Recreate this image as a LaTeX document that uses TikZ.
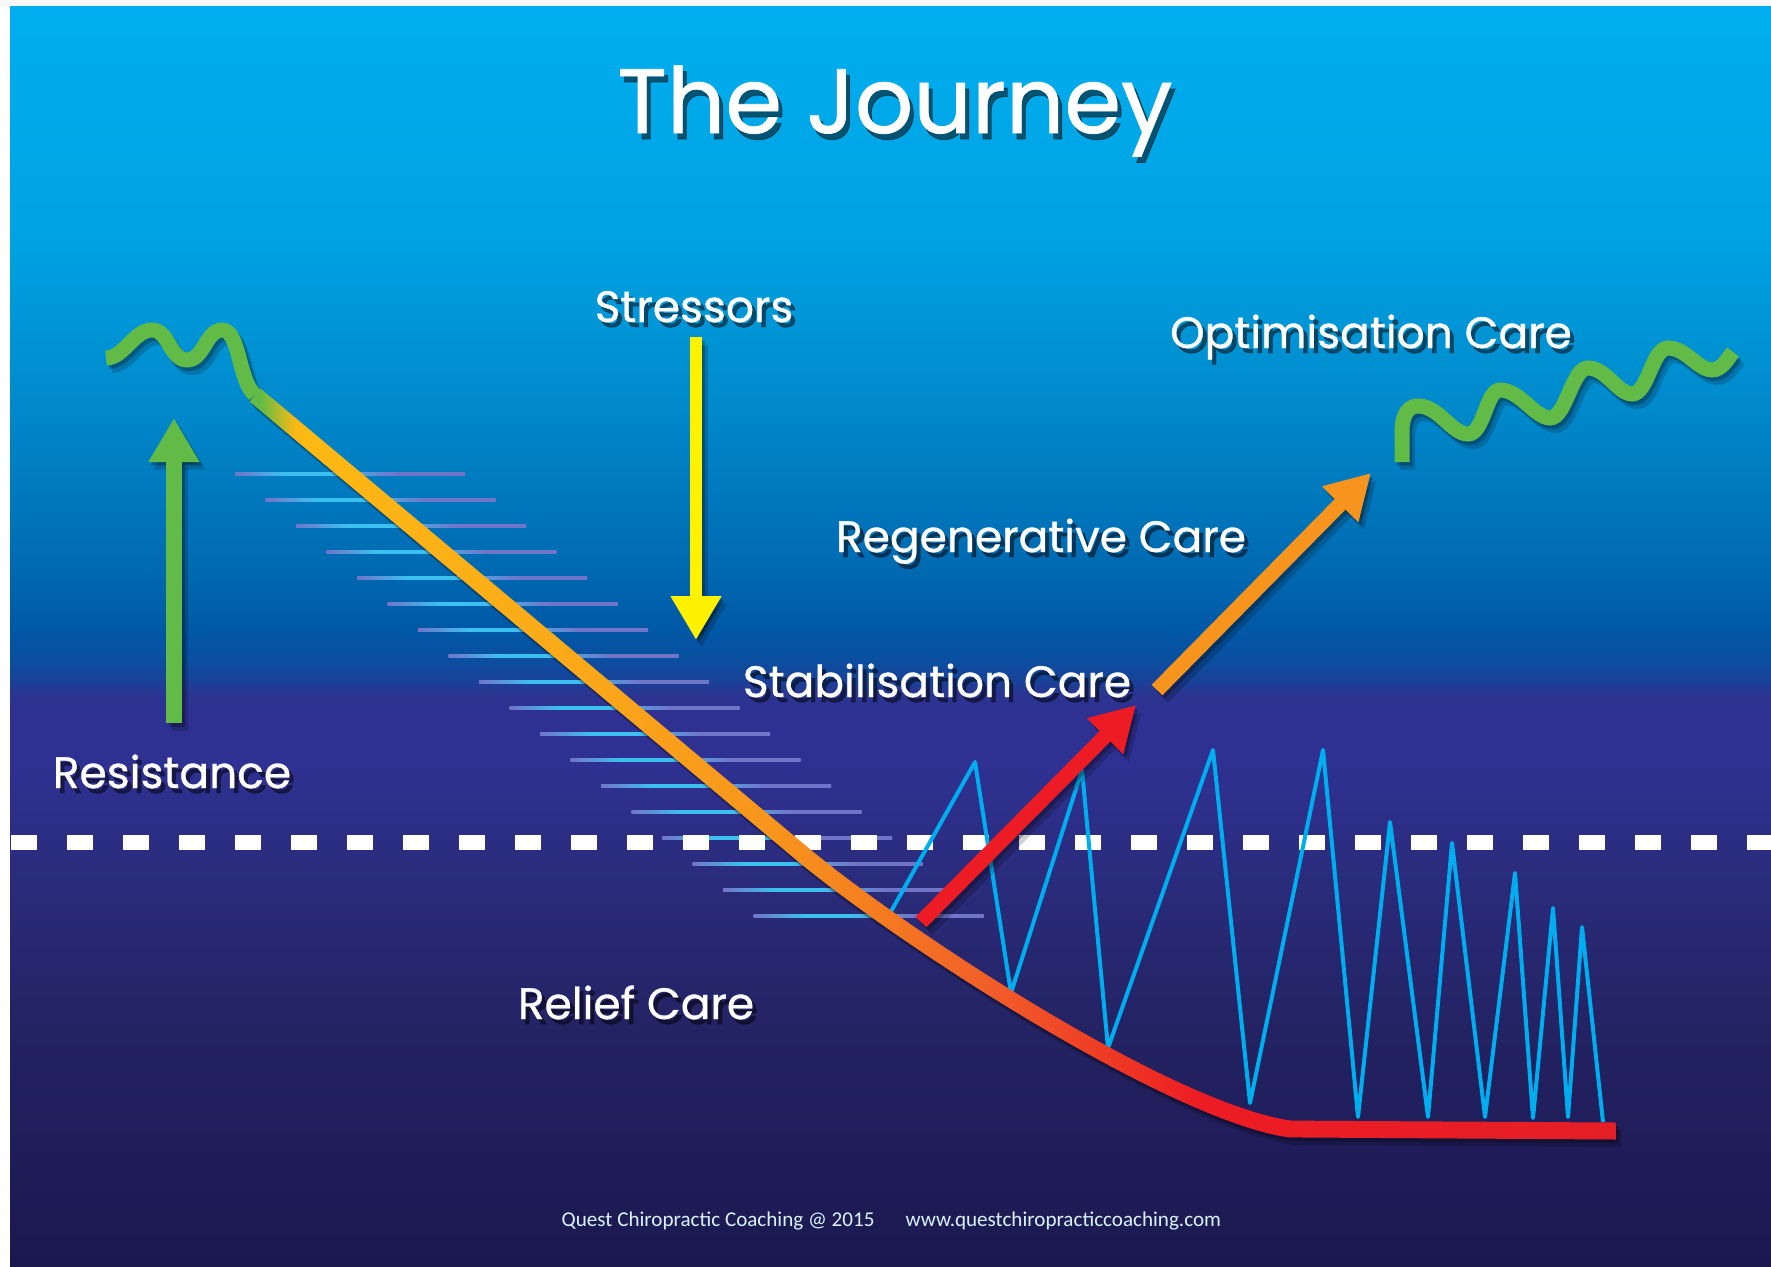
\documentclass[tikz,border=0pt]{standalone}
\usepackage{fontspec}
\usepackage{tikz}
\usetikzlibrary{positioning,arrows.meta,calc}
\setmainfont{Poppins}[FakeBold=0.8]
\newfontfamily\footfont{Carlito}

% sky: bright cyan at the top, night blue at the bottom
\definecolor{skyx}{HTML}{00AEEF}
\definecolor{skyb}{HTML}{00A3E3}
\definecolor{skyc}{HTML}{0089CB}
\definecolor{skyd}{HTML}{006AB2}
\definecolor{skye}{HTML}{0058A6}
\definecolor{deepa}{HTML}{0A4FA0}
\definecolor{deepb}{HTML}{174399}
\definecolor{duska}{HTML}{2A3591}
\definecolor{duskb}{HTML}{2E3192}
\definecolor{duskc}{HTML}{2A2B7A}
\definecolor{nighta}{HTML}{232262}
\definecolor{nightb}{HTML}{1B1850}
% strokes
\definecolor{leafx}{HTML}{62BB46}
\definecolor{sunx}{HTML}{FFF200}
\definecolor{goldx}{HTML}{FDB913}
\definecolor{amberx}{HTML}{FBAA19}
\definecolor{tangx}{HTML}{F7941D}
\definecolor{tangr}{HTML}{F47B20}
\definecolor{emberx}{HTML}{F15A29}
\definecolor{emberr}{HTML}{EE3B24}
\definecolor{flamex}{HTML}{ED1C24}
\definecolor{flamed}{HTML}{E41E26}
\definecolor{zigx}{HTML}{00AEEF}
\definecolor{stairlav}{HTML}{7175C8}
\definecolor{stairblue}{HTML}{3CC0F0}

\pgfdeclareverticalshading{journeysky}{100bp}{color(0bp)=(nightb); color(25bp)=(nightb);
  color(34bp)=(nighta); color(40bp)=(duskc); color(45bp)=(duskb); color(47bp)=(duskb);
  color(47.7bp)=(duska); color(48.3bp)=(deepb); color(49.1bp)=(deepa); color(50.2bp)=(skye);
  color(52.8bp)=(skyd); color(59bp)=(skyc); color(66bp)=(skyb); color(75bp)=(skyx); color(100bp)=(skyx)}
\pgfdeclarehorizontalshading{descent}{100bp}{color(0bp)=(leafx); color(25.4bp)=(leafx);
  color(26.7bp)=(goldx); color(36.4bp)=(amberx); color(44.4bp)=(tangx); color(48.1bp)=(tangr);
  color(52.5bp)=(emberx); color(56.3bp)=(emberr); color(59.8bp)=(flamex); color(75bp)=(flamed);
  color(100bp)=(flamed)}
\pgfdeclarehorizontalshading{stairglow}{100bp}{color(0bp)=(stairlav); color(25bp)=(stairlav);
  color(36bp)=(stairblue); color(46bp)=(stairblue); color(60bp)=(stairlav); color(100bp)=(stairlav)}

% outline of the thick descent (straight run, bend, flat floor)
\def\descentband{(260.5,388.5) -- (805.5,845.5) .. controls (905.5,929.5) and (1171.2,1103.6) .. (1291.2,1120.6)
  -- (1616,1122.5) -- (1616,1139.5) -- (1288.8,1137.4) .. controls (1168.8,1120.4) and (894.5,942.5) .. (794.5,858.5)
  -- (249.5,401.5) -- cycle}
\def\leftwiggle{(106,358) .. controls (124,358) and (134,330) .. (152,330) .. controls (169,330) and (170,360) .. (187,360)
  .. controls (204,360) and (206,330) .. (222,330) .. controls (240,330) and (238,380) .. (255,395)}
\def\rightwiggle{(1402,462) -- (1402,432) .. controls (1402,412) and (1410,405) .. (1420,406)
  .. controls (1440,408) and (1452,434) .. (1468,434) .. controls (1484,434) and (1486,390) .. (1500,390)
  .. controls (1520,390) and (1535,418) .. (1550,418) .. controls (1566,418) and (1572,368) .. (1588,368)
  .. controls (1606,368) and (1618,394) .. (1632,394) .. controls (1648,394) and (1652,348) .. (1668,348)
  .. controls (1686,348) and (1698,370) .. (1712,370) .. controls (1722,370) and (1728,358) .. (1733,352)}

\begin{document}
\begin{tikzpicture}[x=0.1mm, y=-0.1mm,
  lbl/.style={font=\fontsize{12.5}{14}\selectfont, text=white, anchor=base, inner sep=0pt},
  lblshade/.style={lbl, text=black},
  foot/.style={font=\footfont\fontsize{6}{7}\selectfont, text=white!85!skyx, anchor=base west, inner sep=0pt},
  wiggle/.style={draw=leafx, line width=1.5mm, line cap=butt},
  bigarrow/.style={line width=1.5mm, -{Triangle[length=4.4mm, width=4.8mm]}},
  zigzag/.style={draw=zigx, line width=0.4mm, line join=round},
  breakline/.style={draw=white, line width=1.5mm, dash pattern=on 2.6mm off 3mm}]

  \useasboundingbox (0,0) rectangle (1771,1266);
  \fill[white] (0,0) rectangle (1771,1266);
  \fill[gray!6] (0,0) rectangle (1771,6);
  \shade[shading=journeysky] (10,6) rectangle (1771,1266);

  % arrow ends
  \coordinate (resist tail) at (174,723);
  \coordinate (resist tip) at (174,418);
  \coordinate (stress tail) at (696,337);
  \coordinate (stress tip) at (696,640);
  \coordinate (stab tail) at (921,922);
  \coordinate (stab tip) at (1136,705);
  \coordinate (regen tail) at (1157,690);
  \coordinate (regen tip) at (1371,473);

  % stepped stress lines
  \foreach \i in {0,...,17}
    \shade[shading=stairglow] ({235+30.5*\i},{472.3+26*\i}) rectangle ++(230,3.5);

  % threshold
  \draw[breakline] (11,842) -- (1771,842);

  % care visits
  \draw[zigzag] (889,915) -- (975,762) -- (1011,993) -- (1082,770) -- (1108,1048) -- (1213,750)
    -- (1250,1103) -- (1323,750) -- (1358,1117) -- (1390,822) -- (1428,1117) -- (1452,843)
    -- (1485,1117) -- (1515,873) -- (1533,1118) -- (1553,908) -- (1568,1117) -- (1582,927) -- (1603,1122);

  % soft drop shadow under the strokes
  \foreach \dx/\dy/\op in {0.25/0.35/0.25, 0.55/0.75/0.18} {
    \begin{scope}[transform canvas={shift={(\dx mm,-\dy mm)}}, opacity=\op]
      \fill[black] \descentband;
      \draw[wiggle, draw=black] \leftwiggle;
      \draw[wiggle, draw=black] \rightwiggle;
      \draw[bigarrow, black, line width=1.6mm] (resist tail) -- (resist tip);
      \draw[bigarrow, black, line width=1.2mm] (stress tail) -- (stress tip);
      \draw[bigarrow, black] (stab tail) -- (stab tip);
      \draw[bigarrow, black] (regen tail) -- (regen tip);
    \end{scope}
  }

  \shade[shading=descent] \descentband;
  \draw[wiggle] \leftwiggle;
  \draw[wiggle] \rightwiggle;

  \draw[bigarrow, leafx, line width=1.6mm] (resist tail) -- (resist tip);
  \draw[bigarrow, sunx, line width=1.2mm] (stress tail) -- (stress tip);
  \draw[bigarrow, flamex] (stab tail) -- (stab tip);
  \draw[bigarrow, tangx] (regen tail) -- (regen tip);

  % labels with their shadows
  \node[lblshade, font=\fontsize{26}{30}\selectfont, opacity=0.5] (title-sh) at (899,139) {The Journey};
  \node[lbl, font=\fontsize{26}{30}\selectfont] (title) at (895,133) {The Journey};
  \foreach \nm/\lx/\ly/\txt in {stressors/694/322/Stressors, optcare/1371/348/Optimisation Care,
      regencare/1041/552/Regenerative Care, stabcare/937/697/Stabilisation Care,
      resistance/172/788/Resistance, reliefcare/636/1019/Relief Care} {
    \node[lblshade, opacity=0.5] (\nm-sh) at (\lx+4,\ly+5) {\txt};
    \node[lbl] (\nm) at (\lx,\ly) {\txt};
  }

  \node[foot] (credit) at (561,1226) {Quest Chiropractic Coaching @ 2015};
  \node[foot] (web) at (905,1226) {www.questchiropracticcoaching.com};
\end{tikzpicture}
\end{document}
